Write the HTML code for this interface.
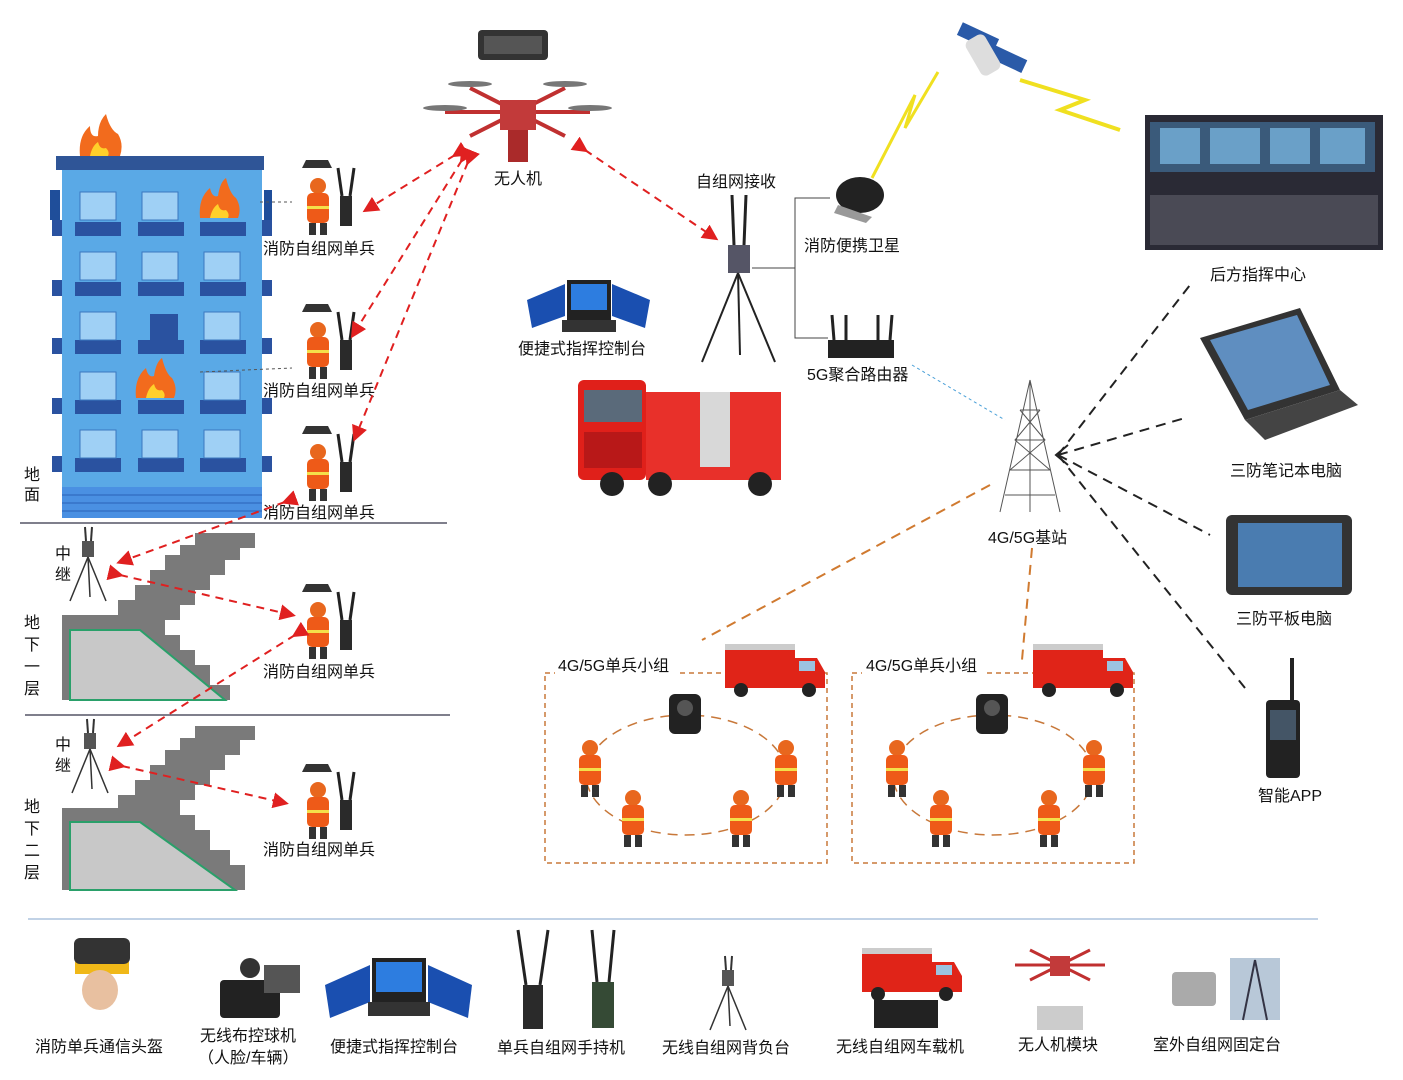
<!DOCTYPE html>
<html><head><meta charset="utf-8"><style>
html,body{margin:0;padding:0;background:#fff;}
svg{display:block;}
text{font-family:"Liberation Sans","Noto Sans CJK SC",sans-serif;font-size:16px;fill:#111;}
</style></head><body>
<svg width="1403" height="1080" viewBox="0 0 1403 1080" xmlns="http://www.w3.org/2000/svg">
<defs>
<marker id="ar" markerWidth="8" markerHeight="8" refX="6" refY="4" orient="auto"><path d="M0,0 L8,4 L0,8 z" fill="#e02020"/></marker>
<g id="ff">
  <ellipse cx="0" cy="-22" rx="8" ry="8" fill="#e8671e"/>
  <rect x="-11" y="-15" width="22" height="30" rx="5" fill="#ee5a18"/>
  <rect x="-11" y="-2" width="22" height="3" fill="#f4e04a"/>
  <rect x="-9" y="15" width="7" height="12" fill="#333"/><rect x="2" y="15" width="7" height="12" fill="#333"/>
</g>
<g id="unit">
  <path d="M-12,-48 h22 l4,8 h-30 z" fill="#333"/>
  <use href="#ff" x="0" y="0"/>
  <rect x="22" y="-12" width="12" height="30" fill="#2a2a2a"/>
  <line x1="24" y1="-12" x2="20" y2="-40" stroke="#222" stroke-width="3"/>
  <line x1="32" y1="-12" x2="36" y2="-40" stroke="#222" stroke-width="3"/>
</g>
<g id="truck">
  <rect x="0" y="10" width="70" height="38" fill="#e02418"/>
  <rect x="0" y="4" width="70" height="6" fill="#ccc"/>
  <path d="M70,18 h22 l8,14 v16 h-30 z" fill="#e02418"/>
  <rect x="74" y="21" width="16" height="10" fill="#9cc3e0"/>
  <circle cx="16" cy="50" r="7" fill="#222"/><circle cx="84" cy="50" r="7" fill="#222"/>
</g>
<g id="relay">
  <rect x="-6" y="-12" width="12" height="16" fill="#555"/>
  <line x1="-2" y1="-12" x2="-3" y2="-26" stroke="#333" stroke-width="2"/>
  <line x1="3" y1="-12" x2="4" y2="-26" stroke="#333" stroke-width="2"/>
  <line x1="0" y1="4" x2="-18" y2="48" stroke="#333" stroke-width="1.5"/>
  <line x1="0" y1="4" x2="18" y2="48" stroke="#333" stroke-width="1.5"/>
  <line x1="0" y1="4" x2="2" y2="44" stroke="#333" stroke-width="1.5"/>
</g>
<g id="cam">
  <rect x="-16" y="-18" width="32" height="40" rx="6" fill="#222"/>
  <circle cx="0" cy="-4" r="8" fill="#555"/>
</g>
</defs>

<!-- building -->
<rect x="56" y="156" width="208" height="14" fill="#2f5597"/>
<rect x="62" y="170" width="200" height="318" fill="#5aa9e6"/>
<g fill="#1f4e9a">
  <rect x="50" y="190" width="10" height="30"/><rect x="264" y="190" width="8" height="30"/>
</g>
<g id="winrows">
</g>
<g fill="#2a52a0">
<rect x="75" y="222" width="46" height="14"/><rect x="138" y="222" width="46" height="14"/><rect x="200" y="222" width="46" height="14"/>
<rect x="75" y="282" width="46" height="14"/><rect x="138" y="282" width="46" height="14"/><rect x="200" y="282" width="46" height="14"/>
<rect x="75" y="340" width="46" height="14"/><rect x="138" y="340" width="46" height="14"/><rect x="200" y="340" width="46" height="14"/>
<rect x="75" y="400" width="46" height="14"/><rect x="138" y="400" width="46" height="14"/><rect x="200" y="400" width="46" height="14"/>
<rect x="75" y="458" width="46" height="14"/><rect x="138" y="458" width="46" height="14"/><rect x="200" y="458" width="46" height="14"/>
<rect x="52" y="220" width="10" height="16"/><rect x="52" y="280" width="10" height="16"/><rect x="52" y="338" width="10" height="16"/><rect x="52" y="398" width="10" height="16"/><rect x="52" y="456" width="10" height="16"/>
<rect x="262" y="220" width="10" height="16"/><rect x="262" y="280" width="10" height="16"/><rect x="262" y="338" width="10" height="16"/><rect x="262" y="398" width="10" height="16"/><rect x="262" y="456" width="10" height="16"/>
<rect x="150" y="314" width="28" height="26"/>
</g>
<g fill="#9fd0f5" stroke="#3b78c0">
<rect x="80" y="192" width="36" height="28"/><rect x="142" y="192" width="36" height="28"/>
<rect x="80" y="252" width="36" height="28"/><rect x="142" y="252" width="36" height="28"/><rect x="204" y="252" width="36" height="28"/>
<rect x="80" y="312" width="36" height="28"/><rect x="204" y="312" width="36" height="28"/>
<rect x="80" y="372" width="36" height="28"/><rect x="204" y="372" width="36" height="28"/>
<rect x="80" y="430" width="36" height="28"/><rect x="142" y="430" width="36" height="28"/><rect x="204" y="430" width="36" height="28"/>
</g>
<rect x="62" y="487" width="200" height="31" fill="#4a90e2"/>
<g stroke="#2a62b8" stroke-width="1">
<line x1="62" y1="495" x2="262" y2="495"/><line x1="62" y1="503" x2="262" y2="503"/><line x1="62" y1="511" x2="262" y2="511"/>
</g>
<!-- fires -->
<g fill="#f26b1d"><path d="M80,156 q-2,-20 10,-30 q0,12 8,10 q0,-14 8,-22 q4,16 12,20 q6,10 2,22 z"/>
<path d="M200,218 q-2,-20 10,-30 q2,10 8,8 q2,-14 8,-18 q4,16 10,20 q6,10 2,20 z"/>
<path d="M136,398 q-2,-20 10,-30 q2,10 8,8 q2,-14 8,-18 q4,16 10,20 q6,10 2,20 z"/></g>
<g fill="#ffd02a"><path d="M90,156 q2,-10 8,-14 q2,8 8,6 q4,4 2,8 z"/><path d="M210,218 q2,-10 8,-14 q2,8 8,6 q4,4 2,8 z"/><path d="M146,398 q2,-10 8,-14 q2,8 8,6 q4,4 2,8 z"/></g>

<text x="24" y="480">地</text><text x="24" y="500">面</text>
<line x1="20" y1="523" x2="447" y2="523" stroke="#556" stroke-width="1.5"/>
<line x1="25" y1="715" x2="450" y2="715" stroke="#556" stroke-width="1.5"/>
<line x1="28" y1="919" x2="1318" y2="919" stroke="#9cb8d8" stroke-width="1.2"/>

<!-- stairs -->
<path d="M62,615 L118,615 L118,600 L135,600 L135,585 L150,585 L150,570 L165,570 L165,555 L180,555 L180,545 L195,545 L195,533 L255,533 L255,548 L240,548 L240,560 L225,560 L225,575 L210,575 L210,590 L195,590 L195,605 L180,605 L180,620 L165,620 L165,635 L180,635 L180,650 L195,650 L195,665 L210,665 L210,685 L230,685 L230,700 L62,700 z" fill="#7a7a7a"/>
<path d="M70,630 L140,630 L225,700 L70,700 z" fill="#c8c8c8" stroke="#2aa06a" stroke-width="2"/>
<path d="M62,808 L118,808 L118,795 L135,795 L135,780 L150,780 L150,765 L165,765 L165,750 L180,750 L180,738 L195,738 L195,726 L255,726 L255,740 L240,740 L240,755 L225,755 L225,770 L210,770 L210,785 L195,785 L195,800 L180,800 L180,815 L195,815 L195,830 L210,830 L210,850 L230,850 L230,865 L245,865 L245,890 L62,890 z" fill="#7a7a7a"/>
<path d="M70,822 L140,822 L235,890 L70,890 z" fill="#c8c8c8" stroke="#2aa06a" stroke-width="2"/>
<use href="#relay" x="88" y="553"/><use href="#relay" x="90" y="745"/>
<text x="55" y="559">中</text><text x="55" y="580">继</text>
<text x="55" y="750">中</text><text x="55" y="771">继</text>
<text x="24" y="628">地</text><text x="24" y="650">下</text><text x="24" y="672">一</text><text x="24" y="694">层</text>
<text x="24" y="812">地</text><text x="24" y="834">下</text><text x="24" y="856">二</text><text x="24" y="878">层</text>

<!-- units -->
<use href="#unit" x="318" y="208"/><use href="#unit" x="318" y="352"/><use href="#unit" x="318" y="474"/>
<use href="#unit" x="318" y="632"/><use href="#unit" x="318" y="812"/>
<text x="263" y="254">消防自组网单兵</text><text x="263" y="396">消防自组网单兵</text><text x="263" y="518">消防自组网单兵</text>
<text x="263" y="677">消防自组网单兵</text><text x="263" y="855">消防自组网单兵</text>
<line x1="260" y1="202" x2="292" y2="202" stroke="#555" stroke-dasharray="3,3"/>
<line x1="200" y1="372" x2="292" y2="368" stroke="#555" stroke-dasharray="3,3"/>

<!-- red dashed -->
<g stroke="#e02020" stroke-width="2" stroke-dasharray="8,6" fill="none" marker-end="url(#ar)" marker-start="url(#ar)">
<line x1="455" y1="155" x2="366" y2="210"/>
<line x1="462" y1="160" x2="353" y2="335"/>
<line x1="468" y1="162" x2="355" y2="438"/>
<line x1="585" y1="150" x2="715" y2="238"/>
<line x1="285" y1="502" x2="120" y2="562"/>
<line x1="120" y1="575" x2="292" y2="615"/>
<line x1="295" y1="635" x2="120" y2="745"/>
<line x1="122" y1="766" x2="285" y2="803"/>
</g>

<!-- drone top -->
<rect x="478" y="30" width="70" height="30" rx="4" fill="#333"/><rect x="484" y="36" width="58" height="18" fill="#555"/>
<g stroke="#c03030" stroke-width="4"><line x1="445" y1="112" x2="590" y2="112"/><line x1="470" y1="88" x2="565" y2="136"/><line x1="565" y1="88" x2="470" y2="136"/></g>
<rect x="500" y="100" width="36" height="30" fill="#c23a3a"/><rect x="508" y="130" width="20" height="32" fill="#aa2a2a"/>
<g fill="#777"><ellipse cx="445" cy="108" rx="22" ry="3"/><ellipse cx="590" cy="108" rx="22" ry="3"/><ellipse cx="470" cy="84" rx="22" ry="3"/><ellipse cx="565" cy="84" rx="22" ry="3"/></g>
<text x="494" y="184">无人机</text>

<!-- center -->
<text x="696" y="187">自组网接收</text>
<rect x="728" y="245" width="22" height="28" fill="#556"/>
<g stroke="#222" stroke-width="3"><line x1="734" y1="245" x2="732" y2="195"/><line x1="744" y1="245" x2="746" y2="195"/></g>
<g stroke="#222" stroke-width="2"><line x1="738" y1="273" x2="702" y2="362"/><line x1="738" y1="273" x2="775" y2="362"/><line x1="738" y1="273" x2="740" y2="355"/></g>
<path d="M752,268 H795 V198 H830 M795,268 V338 H828" stroke="#444" fill="none"/>
<ellipse cx="860" cy="195" rx="24" ry="18" fill="#222"/><path d="M838,205 l34,12 l-6,6 l-32,-10 z" fill="#999"/>
<text x="804" y="251">消防便携卫星</text>
<rect x="828" y="340" width="66" height="18" fill="#222"/><g stroke="#222" stroke-width="3"><line x1="834" y1="340" x2="832" y2="315"/><line x1="846" y1="340" x2="846" y2="315"/><line x1="878" y1="340" x2="878" y2="315"/><line x1="890" y1="340" x2="892" y2="315"/></g>
<text x="807" y="380">5G聚合路由器</text>
<line x1="912" y1="365" x2="1005" y2="420" stroke="#4aa0d8" stroke-dasharray="3,3"/>
<path d="M872,178 L915,95 L905,128 L938,72" stroke="#f0e020" stroke-width="3" fill="none"/>
<path d="M1020,80 L1085,100 L1060,110 L1120,130" stroke="#f0e020" stroke-width="4" fill="none"/>
<rect x="958" y="30" width="40" height="14" fill="#2a5aa8" transform="rotate(25 978 37)"/><rect x="990" y="52" width="36" height="14" fill="#2a5aa8" transform="rotate(25 1008 59)"/><rect x="972" y="35" width="22" height="40" rx="6" fill="#ddd" transform="rotate(-30 983 55)"/>

<!-- portable console -->
<g><path d="M527,300 L565,284 L565,316 L532,328 z" fill="#1a4fb0"/><path d="M612,284 L650,300 L645,328 L612,316 z" fill="#1a4fb0"/><rect x="567" y="280" width="44" height="40" fill="#222"/><rect x="571" y="284" width="36" height="26" fill="#2d7de0"/><rect x="562" y="320" width="54" height="12" fill="#333"/></g>
<text x="518" y="354">便捷式指挥控制台</text>
<!-- big truck -->
<rect x="578" y="380" width="68" height="100" rx="6" fill="#e0201a"/><rect x="584" y="390" width="58" height="32" fill="#5a6a7a"/><rect x="584" y="432" width="58" height="36" fill="#b81818"/>
<rect x="646" y="392" width="135" height="88" fill="#e8302a"/><rect x="700" y="392" width="30" height="75" fill="#d8d8d8"/>
<circle cx="612" cy="484" r="12" fill="#222"/><circle cx="660" cy="484" r="12" fill="#222"/><circle cx="760" cy="484" r="12" fill="#222"/>

<!-- tower -->
<g stroke="#555" stroke-width="1" fill="none"><path d="M1030,380 L1000,512 M1030,380 L1060,512 M1030,380 L1030,512 M1010,470 L1050,470 M1015,440 L1045,440 M1020,410 L1040,410 M1005,495 L1055,495 M1010,470 L1045,440 L1020,410 M1050,470 L1015,440 L1040,410"/></g>
<text x="988" y="543">4G/5G基站</text>
<g stroke="#222" stroke-width="2" stroke-dasharray="10,7" fill="none">
<line x1="1058" y1="455" x2="1190" y2="285"/><line x1="1058" y1="455" x2="1185" y2="418"/><line x1="1058" y1="455" x2="1210" y2="535"/><line x1="1058" y1="455" x2="1245" y2="688"/>
</g>
<path d="M1068,445 L1056,455 L1068,465" stroke="#222" stroke-width="2" fill="none"/>
<g stroke="#d07a30" stroke-width="2" stroke-dasharray="10,7" fill="none"><line x1="990" y1="485" x2="702" y2="640"/><line x1="1032" y1="548" x2="1022" y2="660"/></g>

<!-- right side -->
<rect x="1145" y="115" width="238" height="135" fill="#2a2a35"/><rect x="1150" y="122" width="225" height="50" fill="#3a5a7a"/><rect x="1150" y="195" width="228" height="50" fill="#4a4a55"/>
<g fill="#6aa0c8"><rect x="1160" y="128" width="40" height="36"/><rect x="1210" y="128" width="50" height="36"/><rect x="1270" y="128" width="40" height="36"/><rect x="1320" y="128" width="45" height="36"/></g>
<text x="1210" y="280">后方指挥中心</text>
<path d="M1200,338 L1300,308 L1340,390 L1245,420 z" fill="#333"/><path d="M1210,340 L1297,315 L1330,385 L1248,410 z" fill="#5f8ec0"/><path d="M1245,420 L1340,390 L1358,405 L1265,440 z" fill="#444"/>
<text x="1230" y="476">三防笔记本电脑</text>
<rect x="1226" y="515" width="126" height="80" rx="6" fill="#333"/><rect x="1238" y="523" width="104" height="64" fill="#4a7cb0"/>
<text x="1236" y="624">三防平板电脑</text>
<rect x="1266" y="700" width="34" height="78" rx="4" fill="#222"/><rect x="1270" y="710" width="26" height="30" fill="#456"/><line x1="1292" y1="700" x2="1292" y2="658" stroke="#222" stroke-width="4"/>
<text x="1258" y="801">智能APP</text>

<!-- groups -->
<g stroke="#c8783a" stroke-width="1.5" stroke-dasharray="5,4" fill="none">
<rect x="545" y="673" width="282" height="190"/><rect x="852" y="673" width="282" height="190"/>
</g>
<g stroke="#c8783a" stroke-width="1.5" stroke-dasharray="10,7" fill="none">
<ellipse cx="686" cy="775" rx="100" ry="60"/><ellipse cx="993" cy="775" rx="100" ry="60"/>
</g>
<rect x="555" y="656" width="122" height="20" fill="#fff"/><rect x="862" y="656" width="122" height="20" fill="#fff"/>
<text x="558" y="671">4G/5G单兵小组</text><text x="866" y="671">4G/5G单兵小组</text>
<use href="#truck" x="725" y="640"/><use href="#truck" x="1033" y="640"/>
<use href="#cam" x="685" y="712"/><use href="#cam" x="992" y="712"/>
<g><use href="#ff" x="590" y="770"/><use href="#ff" x="786" y="770"/><use href="#ff" x="633" y="820"/><use href="#ff" x="741" y="820"/>
<use href="#ff" x="897" y="770"/><use href="#ff" x="1094" y="770"/><use href="#ff" x="941" y="820"/><use href="#ff" x="1049" y="820"/></g>

<!-- bottom row -->
<path d="M75,962 q28,-30 54,0 v12 h-54 z" fill="#f0b818"/><rect x="74" y="938" width="56" height="26" rx="6" fill="#333"/><ellipse cx="100" cy="990" rx="18" ry="20" fill="#e8c0a0"/>
<text x="35" y="1052">消防单兵通信头盔</text>
<rect x="220" y="980" width="60" height="38" rx="4" fill="#222"/><circle cx="250" cy="968" r="10" fill="#333"/><rect x="264" y="965" width="36" height="28" fill="#555"/>
<text x="200" y="1041">无线布控球机</text><text x="198" y="1063">（人脸/车辆）</text>
<g><path d="M325,985 L370,965 L370,1002 L330,1018 z" fill="#1a4fb0"/><path d="M428,965 L472,985 L468,1018 L428,1002 z" fill="#1a4fb0"/><rect x="372" y="958" width="54" height="44" fill="#222"/><rect x="376" y="962" width="46" height="30" fill="#2d7de0"/><rect x="368" y="1002" width="62" height="14" fill="#333"/></g>
<text x="330" y="1052">便捷式指挥控制台</text>
<rect x="523" y="985" width="20" height="44" fill="#2a2a2a"/><line x1="526" y1="985" x2="518" y2="930" stroke="#222" stroke-width="3"/><line x1="540" y1="985" x2="548" y2="930" stroke="#222" stroke-width="3"/>
<rect x="592" y="982" width="22" height="46" fill="#354a35"/><line x1="597" y1="982" x2="592" y2="930" stroke="#222" stroke-width="3"/><line x1="609" y1="982" x2="614" y2="930" stroke="#222" stroke-width="3"/>
<text x="497" y="1053">单兵自组网手持机</text>
<use href="#relay" x="728" y="982"/>
<text x="662" y="1053">无线自组网背负台</text>
<use href="#truck" x="862" y="944"/><rect x="874" y="1000" width="64" height="28" fill="#222"/>
<text x="836" y="1052">无线自组网车载机</text>
<g stroke="#c03030" stroke-width="3"><line x1="1015" y1="965" x2="1105" y2="965"/><line x1="1030" y1="950" x2="1090" y2="980"/><line x1="1090" y1="950" x2="1030" y2="980"/></g>
<rect x="1050" y="956" width="20" height="20" fill="#c23a3a"/><rect x="1037" y="1006" width="46" height="24" fill="#ccc"/>
<text x="1018" y="1050">无人机模块</text>
<rect x="1172" y="972" width="44" height="34" rx="4" fill="#aaa"/><rect x="1230" y="958" width="50" height="62" fill="#b8c8d8"/><path d="M1255,960 l-12,60 M1255,960 l12,60" stroke="#334" stroke-width="2"/>
<text x="1153" y="1050">室外自组网固定台</text>
</svg>
</body></html>
